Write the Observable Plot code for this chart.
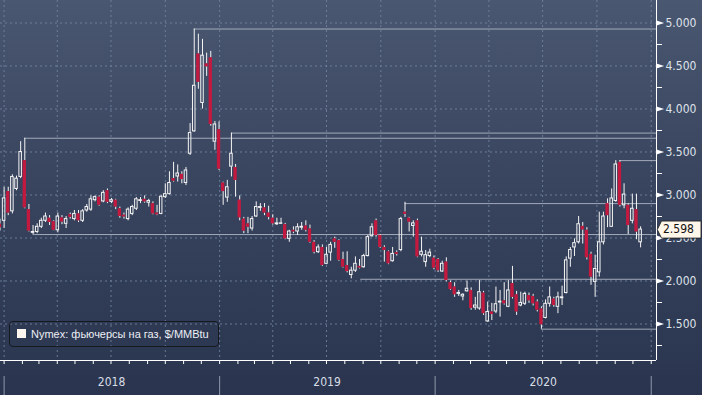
<!DOCTYPE html>
<html>
<head>
<meta charset="utf-8">
<script src="https://cdn.jsdelivr.net/npm/d3@7"></script>
<script src="https://cdn.jsdelivr.net/npm/@observablehq/plot@0.6"></script>
<style>
  html, body { margin: 0; padding: 0; }
  body {
    width: 702px; height: 395px; overflow: hidden; position: relative;
    background: linear-gradient(to bottom, #4a5771 0%, #3b4761 40%, #303c56 75%, #2a344e 100%);
    font-family: "Liberation Sans Narrow", "DejaVu Sans Condensed", "Liberation Sans", Arial, sans-serif;
  }
  #chart { position: absolute; left: 0; top: 0; }
  #legend {
    position: absolute; left: 9px; top: 321px; width: 208px; height: 24px;
    border: 1px solid #151920; border-radius: 4px;
  }
  #legend .sw { position: absolute; left: 7px; top: 7px; width: 9px; height: 9px; background: #fff6ef; }
  #legend .tx { position: absolute; left: 21px; top: 5px; font-size: 11px; line-height: 14px; color: #eceff3; white-space: nowrap;
    font-family: "Liberation Sans", Arial, sans-serif; }
</style>
</head>
<body>
<div id="chart"></div>
<div id="legend"><div class="sw"></div><div class="tx">Nymex: фьючерсы на газ, $/MMBtu</div></div>
<script>
// Weekly candles, week ending Friday 2017-12-22 … 2020-12-11
const weeks = d3.utcFriday.range(new Date(Date.UTC(2017, 11, 22)), new Date(Date.UTC(2020, 11, 12)));

const open = [
  2.66, 2.70, 3.04, 2.81, 3.07, 3.21, 3.40, 2.83, 2.56, 2.57,
  2.63, 2.70, 2.73, 2.69, 2.59, 2.735, 2.665, 2.77, 2.72, 2.78,
  2.70, 2.82, 2.83, 2.94, 2.975, 2.925, 3.05, 2.92, 2.94, 2.84,
  2.765, 2.72, 2.78, 2.84, 2.93, 2.95, 2.91, 2.90, 2.79, 2.78,
  2.975, 3.01, 3.19, 3.215, 3.24, 3.14, 3.48, 3.74, 4.64, 4.07,
  4.525, 4.595, 3.62, 3.76, 3.14, 2.97, 3.33, 3.32, 2.94, 2.72,
  2.665, 2.61, 2.75, 2.85, 2.85, 2.79, 2.73, 2.66, 2.665, 2.655,
  2.49, 2.59, 2.575, 2.62, 2.64, 2.605, 2.45, 2.335, 2.39, 2.20,
  2.33, 2.49, 2.47, 2.25, 2.18, 2.07, 2.12, 2.17, 2.16, 2.29,
  2.52, 2.70, 2.53, 2.39, 2.34, 2.23, 2.33, 2.36, 2.80, 2.73,
  2.64, 2.70, 2.305, 2.22, 2.29, 2.265, 2.25, 2.11, 2.22, 1.98,
  1.93, 1.85, 1.82, 1.88, 1.89, 1.69, 1.68, 1.86, 1.53, 1.64,
  1.645, 1.75, 1.77, 1.70, 1.97, 1.84, 1.715, 1.735, 1.83, 1.82,
  1.755, 1.675, 1.57, 1.735, 1.79, 1.70, 1.80, 1.86, 2.26, 2.39,
  2.45, 2.635, 2.59, 2.31, 1.99, 2.10, 2.45, 2.90, 2.63, 2.93,
  3.38, 2.88, 2.88, 2.70, 2.83, 2.45
];
const high = [
  2.72, 3.09, 3.09, 3.235, 3.22, 3.62, 3.66, 2.89, 2.645, 2.665,
  2.73, 2.79, 2.76, 2.70, 2.79, 2.76, 2.75, 2.79, 2.82, 2.82,
  2.83, 2.89, 2.99, 2.99, 2.99, 3.05, 3.07, 2.96, 2.95, 2.86,
  2.79, 2.85, 2.88, 2.97, 2.97, 2.99, 2.95, 2.92, 2.88, 2.99,
  3.13, 3.27, 3.38, 3.35, 3.27, 3.32, 3.83, 4.93, 4.87, 4.81,
  4.65, 4.67, 3.855, 3.85, 3.15, 3.17, 3.72, 3.355, 2.99, 2.74,
  2.74, 2.75, 2.92, 2.90, 2.90, 2.87, 2.77, 2.73, 2.73, 2.67,
  2.59, 2.63, 2.665, 2.68, 2.70, 2.65, 2.47, 2.42, 2.42, 2.39,
  2.45, 2.51, 2.48, 2.335, 2.34, 2.16, 2.28, 2.25, 2.31, 2.53,
  2.665, 2.72, 2.54, 2.41, 2.35, 2.39, 2.35, 2.74, 2.915, 2.74,
  2.70, 2.72, 2.51, 2.355, 2.37, 2.29, 2.26, 2.23, 2.27, 2.00,
  1.98, 1.89, 1.85, 2.00, 1.92, 1.81, 2.005, 1.88, 1.755, 1.74,
  1.93, 1.89, 1.98, 2.005, 2.17, 1.88, 1.87, 1.87, 1.86, 1.845,
  1.78, 1.70, 1.78, 1.93, 1.81, 1.87, 1.94, 2.28, 2.39, 2.49,
  2.75, 2.68, 2.62, 2.335, 2.30, 2.80, 2.80, 2.955, 3.07, 3.40,
  3.40, 3.13, 2.90, 3.01, 3.01, 2.63
];
const low = [
  2.58, 2.61, 2.76, 2.78, 3.05, 3.19, 2.84, 2.57, 2.54, 2.55,
  2.61, 2.68, 2.645, 2.585, 2.56, 2.655, 2.61, 2.72, 2.70, 2.68,
  2.68, 2.80, 2.81, 2.92, 2.87, 2.91, 2.90, 2.90, 2.83, 2.73,
  2.72, 2.70, 2.76, 2.82, 2.90, 2.905, 2.86, 2.77, 2.76, 2.77,
  2.96, 3.00, 3.15, 3.15, 3.13, 3.11, 3.46, 3.73, 4.23, 4.00,
  4.38, 3.80, 3.52, 3.285, 2.88, 2.915, 3.21, 2.975, 2.70, 2.55,
  2.55, 2.58, 2.74, 2.81, 2.76, 2.71, 2.65, 2.645, 2.66, 2.48,
  2.45, 2.55, 2.53, 2.59, 2.57, 2.44, 2.315, 2.32, 2.17, 2.19,
  2.23, 2.38, 2.23, 2.15, 2.095, 2.025, 2.10, 2.14, 2.15, 2.28,
  2.51, 2.51, 2.38, 2.22, 2.19, 2.22, 2.29, 2.34, 2.74, 2.57,
  2.51, 2.27, 2.28, 2.16, 2.27, 2.13, 2.10, 2.10, 1.99, 1.89,
  1.81, 1.82, 1.77, 1.87, 1.66, 1.66, 1.66, 1.60, 1.52, 1.54,
  1.62, 1.58, 1.72, 1.69, 1.79, 1.60, 1.70, 1.715, 1.74, 1.71,
  1.64, 1.44, 1.56, 1.695, 1.695, 1.62, 1.715, 1.85, 2.16, 2.285,
  2.43, 2.43, 2.245, 1.95, 1.81, 2.045, 2.42, 2.62, 2.625, 2.915,
  2.86, 2.84, 2.54, 2.665, 2.48, 2.385
];
const close = [
  2.62, 2.96, 2.79, 3.21, 3.19, 3.50, 2.85, 2.58, 2.57, 2.63,
  2.70, 2.75, 2.68, 2.59, 2.75, 2.685, 2.72, 2.74, 2.78, 2.70,
  2.81, 2.86, 2.95, 2.975, 2.88, 3.025, 2.915, 2.94, 2.86, 2.75,
  2.745, 2.83, 2.86, 2.95, 2.94, 2.92, 2.93, 2.78, 2.77, 2.98,
  3.01, 3.14, 3.16, 3.25, 3.18, 3.285, 3.72, 4.27, 4.31, 4.62,
  4.49, 3.82, 3.82, 3.30, 3.04, 3.09, 3.48, 3.17, 2.735, 2.58,
  2.625, 2.72, 2.86, 2.86, 2.79, 2.74, 2.665, 2.67, 2.67, 2.49,
  2.575, 2.57, 2.625, 2.63, 2.59, 2.45, 2.335, 2.39, 2.18, 2.305,
  2.42, 2.45, 2.24, 2.16, 2.11, 2.12, 2.20, 2.15, 2.29, 2.51,
  2.625, 2.53, 2.39, 2.355, 2.20, 2.315, 2.31, 2.72, 2.775, 2.685,
  2.67, 2.28, 2.34, 2.30, 2.33, 2.15, 2.12, 2.20, 2.005, 1.90,
  1.84, 1.86, 1.84, 1.91, 1.68, 1.715, 1.87, 1.62, 1.64, 1.61,
  1.73, 1.76, 1.735, 1.89, 1.81, 1.64, 1.745, 1.85, 1.77, 1.735,
  1.66, 1.49, 1.735, 1.81, 1.715, 1.81, 1.81, 2.24, 2.36, 2.44,
  2.66, 2.595, 2.27, 2.045, 2.14, 2.45, 2.75, 2.76, 2.96, 3.355,
  2.88, 3.005, 2.645, 2.84, 2.57, 2.598
];

// High / low reference lines (level, date where the line starts)
const levelValues = [4.93, 3.72, 3.66, 3.40, 2.90, 2.54, 2.02, 1.44];
const levelFrom = ["2018-11-19", "2019-01-21", "2018-02-05", "2020-11-09", "2019-11-11", "2018-02-19", "2019-08-28", "2020-06-29"];

const yMajor = [1.5, 2.0, 2.5, 3.0, 3.5, 4.0, 4.5, 5.0];
const yMinor = [1.25, 1.75, 2.25, 2.75, 3.25, 3.75, 4.25, 4.75];
const yearLabels = ["2018", "2019", "2020"];
const legendLabel = "Nymex: фьючерсы на газ, $/MMBtu";

const candles = weeks.map((w, i) => ({
  date: d3.utcDay.offset(w, 3), open: open[i], high: high[i], low: low[i], close: close[i]
}));
const up = candles.filter(d => d.close >= d.open);
const down = candles.filter(d => d.close < d.open);
const levels = levelValues.map((v, i) => ({value: v, from: new Date(levelFrom[i])}));
const last = close[close.length - 1];

const xDomain = [new Date(Date.UTC(2017, 11, 25, 21)), new Date(Date.UTC(2021, 0, 9, 22))];
const yDomain = [1.0756, 5.2616];
const quarters = d3.utcMonth.every(3).range(new Date(Date.UTC(2018, 0, 1)), new Date(Date.UTC(2021, 0, 2)));
const months = d3.utcMonth.range(new Date(Date.UTC(2018, 0, 1)), new Date(Date.UTC(2021, 0, 2)));
const yearStarts = d3.utcYear.range(new Date(Date.UTC(2018, 0, 1)), new Date(Date.UTC(2021, 0, 2)));
const yearMid = yearLabels.map(y => new Date(Date.UTC(+y, 6, 2)));
const H = 3600 * 1000;

const tri = {draw(ctx) { ctx.moveTo(0, -2.6); ctx.lineTo(7.6, 0); ctx.lineTo(0, 2.6); ctx.closePath(); }};
const tag = {draw(ctx) { ctx.moveTo(0.8, 0); ctx.lineTo(5, -8.5); ctx.lineTo(44.5, -8.5); ctx.lineTo(44.5, 8.5); ctx.lineTo(5, 8.5); ctx.closePath(); }};
const fmt = d3.format(".3f");
const FONT = "'Liberation Sans Narrow', 'DejaVu Sans Condensed', 'Liberation Sans', Arial, sans-serif";

const chart = Plot.plot({
  width: 702, height: 395,
  marginLeft: 0, marginRight: 46, marginTop: 0, marginBottom: 35,
  x: {type: "utc", domain: xDomain, axis: null},
  y: {domain: yDomain, axis: null},
  style: {background: "transparent", color: "#dfe3ea", fontFamily: FONT, fontSize: "12px", overflow: "visible"},
  marks: [
    Plot.ruleY(yMajor, {stroke: "#7285a0", strokeDasharray: "2,3", strokeOpacity: 0.85}),
    Plot.ruleX(quarters, {stroke: "#7285a0", strokeDasharray: "2,3", strokeOpacity: 0.85}),
    Plot.ruleY(levels, {y: "value", x1: "from", x2: () => xDomain[1], stroke: "#a2abba", strokeWidth: 1}),
    Plot.ruleX(candles, {x: "date", y1: "high", y2: d => Math.max(d.open, d.close), stroke: "#f4f4f4", strokeWidth: 1, clip: true}),
    Plot.ruleX(candles, {x: "date", y1: d => Math.min(d.open, d.close), y2: "low", stroke: "#f4f4f4", strokeWidth: 1, clip: true}),
    Plot.rect(down, {x1: d => new Date(+d.date - 67 * H), x2: d => new Date(+d.date + 67 * H), y1: "open", y2: "close", fill: "#c4193f", clip: true}),
    Plot.rect(up, {x1: d => new Date(+d.date - 51 * H), x2: d => new Date(+d.date + 51 * H), y1: "open", y2: "close", fill: "none", stroke: "#f4f4f4", strokeWidth: 1, clip: true}),
    Plot.ruleY([yDomain[0]], {stroke: "#ffffff", strokeWidth: 1}),
    Plot.ruleX([xDomain[1]], {stroke: "#ffffff", strokeWidth: 1}),
    Plot.axisX({ticks: months, tickSize: 4, tickFormat: () => "", stroke: "#ffffff"}),
    Plot.axisX({ticks: yearStarts, tickSize: 19, dy: 16, tickFormat: () => "", stroke: "#8e98aa"}),
    Plot.text(yearLabels, {x: (d, i) => yearMid[i], text: d => d, frameAnchor: "bottom", dy: 25, fill: "#d9dee6", fontSize: 12}),
    Plot.axisY({anchor: "right", ticks: yMinor, tickSize: 5, tickFormat: () => "", stroke: "#ffffff"}),
    Plot.dot(yMajor, {y: d => d, frameAnchor: "right", symbol: tri, fill: "#ffffff", stroke: "none"}),
    Plot.axisY({anchor: "right", ticks: yMajor, tickSize: 0, tickPadding: 9, tickFormat: fmt, fill: "#dfe3ea", fontSize: 12}),
    Plot.dot([last], {y: d => d, frameAnchor: "right", symbol: tag, fill: "#fff6ea", stroke: "#1a1a1a", strokeWidth: 0.8}),
    Plot.text([last], {y: d => d, frameAnchor: "right", dx: 6.5, textAnchor: "start", text: d => fmt(d), fill: "#111111", fontSize: 12})
  ]
});
document.getElementById("chart").appendChild(chart);
document.querySelector("#legend .tx").textContent = legendLabel;
</script>
</body>
</html>
